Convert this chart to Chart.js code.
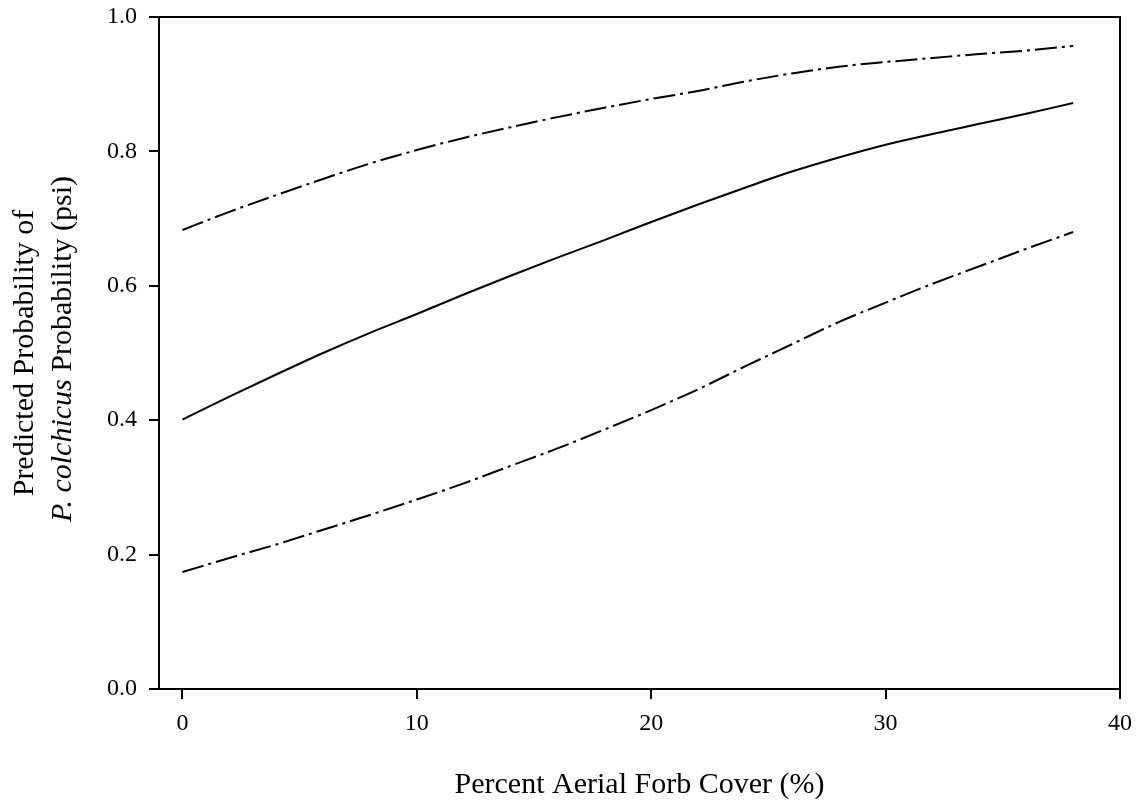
<!DOCTYPE html>
<html>
<head>
<meta charset="utf-8">
<title>Predicted Probability vs Percent Aerial Forb Cover</title>
<script src="https://cdn.jsdelivr.net/npm/chart.js@4.4.0/dist/chart.umd.min.js"></script>
<style>
    html, body { margin: 0; padding: 0; background: #fff; }
    #wrap { width: 1144px; height: 805px; }
</style>
</head>
<body>
<div id="wrap"><canvas id="psiChart" width="1144" height="805"></canvas></div>
<script>
// forb cover (%) at which the curves were read
const forbCover = [0, 2, 4, 6, 8, 10, 12, 14, 16, 18, 20, 22, 24, 26, 28, 30, 32, 34, 36, 38];
// predicted psi (solid line)
const psiFit = [0.401, 0.435, 0.468, 0.500, 0.530, 0.558, 0.587, 0.615, 0.642, 0.668,
                0.695, 0.721, 0.746, 0.770, 0.791, 0.810, 0.826, 0.841, 0.856, 0.872];
// upper confidence limit
const psiUpper = [0.683, 0.710, 0.735, 0.759, 0.782, 0.802, 0.820, 0.836, 0.851, 0.865,
                  0.878, 0.890, 0.904, 0.916, 0.926, 0.933, 0.939, 0.945, 0.950, 0.957];
// lower confidence limit
const psiLower = [0.174, 0.195, 0.215, 0.237, 0.259, 0.282, 0.306, 0.332, 0.358, 0.386,
                  0.415, 0.446, 0.480, 0.513, 0.546, 0.575, 0.603, 0.629, 0.655, 0.680];

const xTicks = [0, 10, 20, 30, 40];
const yTicks = [0.0, 0.2, 0.4, 0.6, 0.8, 1.0];

const serif = '"Liberation Serif", "Times New Roman", serif';

function toPoints(values) {
    return forbCover.map((x, i) => ({ x: x, y: values[i] }));
}

function lineDataset(label, values, dash) {
    return {
        label: label,
        data: toPoints(values),
        borderColor: '#000',
        borderWidth: 2,
        borderDash: dash,
        pointRadius: 0,
        fill: false,
        cubicInterpolationMode: 'monotone'
    };
}

// top/right frame lines and the two-line y title (with italic species name)
const framePlugin = {
    id: 'framePlugin',
    afterDraw(chart) {
        const ctx = chart.ctx;
        const area = chart.chartArea;
        ctx.save();
        ctx.strokeStyle = '#000';
        ctx.lineWidth = 2;
        ctx.beginPath();
        ctx.moveTo(area.left, area.top);
        ctx.lineTo(area.right, area.top);
        ctx.lineTo(area.right, area.bottom);
        ctx.stroke();

        const midY = (area.top + area.bottom) / 2;
        ctx.fillStyle = '#000';
        ctx.textBaseline = 'middle';

        ctx.save();
        ctx.translate(25.5, midY);
        ctx.rotate(-Math.PI / 2);
        ctx.font = '30px ' + serif;
        ctx.textAlign = 'center';
        ctx.fillText('Predicted Probability of', 0, 0);
        ctx.restore();

        ctx.save();
        ctx.translate(63.5, midY - 4);
        ctx.rotate(-Math.PI / 2);
        ctx.textAlign = 'left';
        const partA = 'P. colchicus';
        const partB = ' Probability (psi)';
        ctx.font = 'italic 30px ' + serif;
        const wA = ctx.measureText(partA).width;
        ctx.font = '30px ' + serif;
        const wB = ctx.measureText(partB).width;
        const start = -(wA + wB) / 2;
        ctx.font = 'italic 30px ' + serif;
        ctx.fillText(partA, start, 0);
        ctx.font = '30px ' + serif;
        ctx.fillText(partB, start + wA, 0);
        ctx.restore();

        ctx.restore();
    }
};

const ctx = document.getElementById('psiChart').getContext('2d');
new Chart(ctx, {
    type: 'line',
    data: {
        datasets: [
            lineDataset('psi', psiFit, []),
            lineDataset('upper', psiUpper, [22, 5, 3, 5]),
            lineDataset('lower', psiLower, [22, 5, 3, 5])
        ]
    },
    options: {
        responsive: false,
        animation: false,
        layout: { padding: { left: 0, top: 17, right: 24, bottom: 0 } },
        plugins: {
            legend: { display: false },
            tooltip: { enabled: false }
        },
        scales: {
            x: {
                type: 'linear',
                min: -1,
                max: 40,
                afterBuildTicks: scale => { scale.ticks = xTicks.map(v => ({ value: v })); },
                afterFit: scale => {
                    scale.height = 116;
                    scale.paddingLeft = 0;
                    scale.paddingRight = 0;
                },
                grid: { drawOnChartArea: false, drawTicks: true, tickLength: 10, color: '#000', lineWidth: 2 },
                border: { display: true, color: '#000', width: 2 },
                ticks: {
                    color: '#000',
                    padding: 10,
                    maxRotation: 0,
                    font: { family: serif, size: 24 }
                },
                title: {
                    display: true,
                    text: 'Percent Aerial Forb Cover (%)',
                    color: '#000',
                    font: { family: serif, size: 30 },
                    padding: { top: 0, bottom: 2 }
                }
            },
            y: {
                type: 'linear',
                min: 0,
                max: 1,
                afterBuildTicks: scale => { scale.ticks = yTicks.map(v => ({ value: v })); },
                afterFit: scale => {
                    scale.width = 159;
                    // keep the plot top at the layout padding
                    scale.paddingTop = 0;
                    scale.paddingBottom = 0;
                },
                grid: { drawOnChartArea: false, drawTicks: true, tickLength: 10, color: '#000', lineWidth: 2 },
                border: { display: true, color: '#000', width: 2 },
                ticks: {
                    color: '#000',
                    padding: 12,
                    font: { family: serif, size: 24 },
                    callback: value => Number(value).toFixed(1)
                }
            }
        }
    },
    plugins: [framePlugin]
});
</script>
</body>
</html>
